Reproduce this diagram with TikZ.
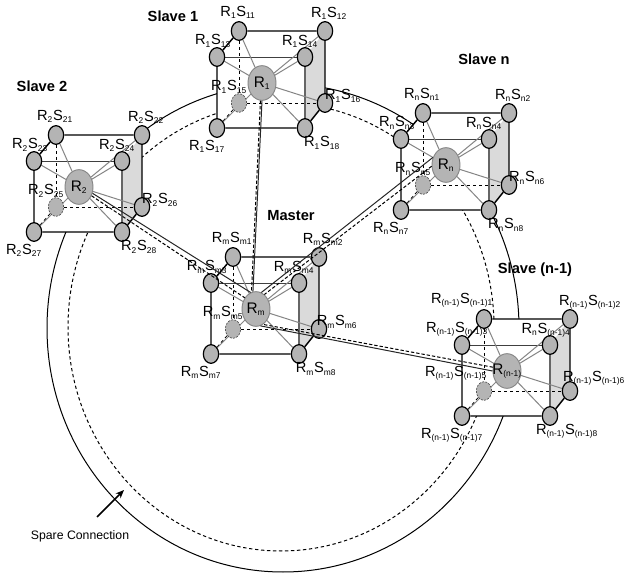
\documentclass[tikz,border=0pt]{standalone}
\usepackage{fontspec}
\setmainfont{Liberation Sans}
\usepackage{xcolor}
\usetikzlibrary{
  arrows.meta,
  calc,
  backgrounds,
  shapes.geometric
}
\definecolor{nodeGray}{HTML}{B4B4B4}
\definecolor{faceGray}{HTML}{DADADA}
\definecolor{spokeGray}{HTML}{858585}
\tikzset{
  router/.style    = {ellipse, draw=spokeGray, fill=nodeGray, line width=0.7pt,
                      minimum width=21pt, minimum height=26pt, inner sep=0pt,
                      font=\fontsize{11.5}{13}\selectfont},
  satnode/.style   = {ellipse, draw=black, fill=nodeGray, line width=0.9pt,
                      minimum width=11.5pt, minimum height=14pt, inner sep=0pt},
  hiddensat/.style = {ellipse, draw=black!70, dashed, fill=nodeGray, line width=0.5pt,
                      dash pattern=on 1.5pt off 1pt,
                      minimum width=11.5pt, minimum height=14pt, inner sep=0pt},
  satlabel/.style  = {inner sep=0pt, font=\fontsize{11}{13}\selectfont},
  title/.style     = {inner sep=0pt, font=\fontsize{11}{13}\selectfont\bfseries},
  note/.style      = {inner sep=0pt, font=\fontsize{9.2}{11}\selectfont},
  cubeedge/.style  = {draw=black, line width=1.1pt},
  backedge/.style  = {draw=black!75, line width=0.7pt},
  sideedge/.style  = {draw=black!60, line width=1pt},
  hiddenedge/.style= {draw=black, line width=0.6pt, dash pattern=on 2.5pt off 2pt},
  spoke/.style     = {draw=spokeGray, line width=0.75pt},
  ringsolid/.style = {draw=black, line width=0.75pt},
  ringdash/.style  = {draw=black, line width=0.75pt, dash pattern=on 2.5pt off 2pt},
  linksolid/.style = {draw=black!85, line width=0.75pt},
  linkdash/.style  = {draw=black, line width=0.75pt, dash pattern=on 2.5pt off 1.5pt},
  arrow/.style     = {-{Stealth[length=2.2mm,width=1.8mm]}, draw=black, line width=1.3pt}
}
\newcommand{\sbs}[1]{\textsubscript{\fontsize{6.3}{7}\selectfont #1}}
\newcommand{\labelsat}{1/-1/-19,2/4/-18,3/-4/-16,4/-5/-16,5/-10/-16,6/18/-7,7/-10/18,8/17/15}
\newcommand{\labelswide}{1/-22/-19,2/20/-17,3/-5/-16,4/-4/-15,5/-28/-18,6/24/-13,7/-10/19,8/17/15}
% #1 name, #2 x, #3 y, #4 R index, #5 S index, #6 label offsets, #7 R index of the 4th label
\newcommand{\slavecube}[7]{
  \node[router] (#1) at (#2,#3) {\makebox[0pt]{R\sbs{#4}}};
  \foreach \k/\sx/\sy/\st in {1/-23/-52/satnode,2/63/-52/satnode,3/-45/-26/satnode,
      4/43/-26/satnode,5/-23/20/hiddensat,6/63/20/satnode,7/-45/45/satnode,8/43/45/satnode}
    \node[\st] (#1-s\k) at (#2+\sx,#3+\sy) {};
  \foreach \k/\dx/\dy in #6
    \node[satlabel] (#1-l\k) at ($(#1-s\k)+(\dx,\dy)$)
      {R\sbs{\ifnum\k=4 #7\else #4\fi}S\sbs{#5\k}};
  \begin{scope}[on background layer]
    \fill[white] (#1-s1.center) -- (#1-s2.center) -- (#1-s6.center) -- (#1-s8.center)
      -- (#1-s7.center) -- (#1-s3.center) -- cycle;
    \fill[faceGray] (#1-s4.center) -- (#1-s2.center) -- (#1-s6.center) -- (#1-s8.center) -- cycle;
    \draw[hiddenedge] (#1-s1) -- (#1-s5);
    \draw[hiddenedge] (#1-s5) -- (#1-s6);
    \draw[hiddenedge] (#1-s5) -- (#1-s7);
    \draw[backedge] (#1-s3) -- (#1-s4);
    \draw[sideedge] (#1-s4) -- (#1-s8);
    \foreach \k in {1,2,3,4,6,7,8}
      \draw[spoke] (#1) -- (#1-s\k);
    \draw[cubeedge] (#1-s1) -- (#1-s2) -- (#1-s6) -- (#1-s8) -- (#1-s7) -- (#1-s3) -- (#1-s1);
  \end{scope}
}
\begin{document}
\begin{tikzpicture}[x=0.75pt,y=-0.75pt]
\useasboundingbox (0,0) rectangle (625,573);
\coordinate (ringA) at (283,328);
\coordinate (ringB) at (281,327);
\begin{scope}[on background layer]
  \draw[ringsolid] (ringA) ellipse [x radius=236, y radius=244];
  \draw[ringdash] (ringB) ellipse [x radius=213, y radius=224];
\end{scope}

\slavecube{Rone}{262}{83}{1}{1}{\labelsat}{1}
\slavecube{Rtwo}{79}{187}{2}{2}{\labelsat}{2}
\slavecube{Rm}{256}{309}{m}{m}{\labelsat}{m}
\slavecube{Rn}{446}{165}{n}{n}{\labelsat}{n}
\slavecube{Rk}{507}{371}{(n-1)}{(n-1)}{\labelswide}{n}

\draw[linksolid] (Rone.-90) -- (Rm.100);
\draw[linkdash] (Rone.-95) -- (Rm.105);
\draw[linksolid] (Rtwo.-25) -- (Rm.108);
\draw[linkdash] (Rtwo.-35) -- (Rm.135);
\draw[linksolid] (Rn.150) -- (Rm.72);
\draw[linkdash] (Rn.185) -- (Rm.60);
\draw[linksolid] (Rk.180) -- (Rm.-75);
\draw[linkdash] (Rk.165) -- (Rm.-65);

\node[title] (titleOne) at (173,16) {Slave 1};
\node[title] (titleTwo) at (42,86) {Slave 2};
\node[title] (titleM) at (291,216) {Master};
\node[title] (titleN) at (484,59) {Slave n};
\node[title] (titleK) at (535,270) {Slave (n-1)};

\node[note] (spare) at (80,536) {Spare Connection};
\coordinate (spareTail) at (97,517);
\coordinate (spareTip) at (124,490);
\draw[arrow] (spareTail) -- (spareTip);
\end{tikzpicture}
\end{document}
